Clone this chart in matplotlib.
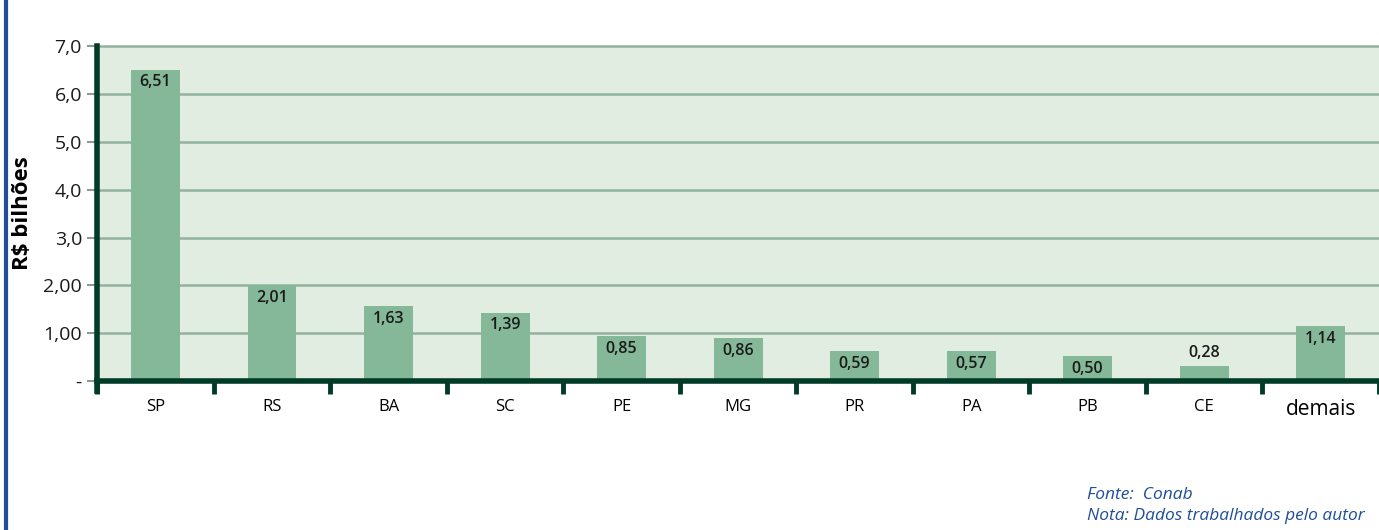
import matplotlib.pyplot as plt
import numpy as np

plt.rcParams['font.family'] = ['Open Sans', 'DejaVu Sans']

states = ['SP', 'RS', 'BA', 'SC', 'PE', 'MG', 'PR', 'PA', 'PB', 'CE', 'demais']
# bar heights as drawn in the picture, and the printed value labels
heights = [6.51, 2.01, 1.57, 1.43, 0.94, 0.90, 0.62, 0.62, 0.52, 0.32, 1.15]
labels = ['6,51', '2,01', '1,63', '1,39', '0,85', '0,86', '0,59', '0,57', '0,50', '0,28', '1,14']
ytick_vals = [0, 1, 2, 3, 4, 5, 6, 7]
ytick_labels = ['-', '1,00', '2,00', '3,0', '4,0', '5,0', '6,0', '7,0']

dark = '#003b28'
bar_color = '#84b898'
bg = '#e0ede0'
grid_color = '#92b29c'

fig = plt.figure(figsize=(13.79, 5.30), dpi=100)
ax = fig.add_axes([0.0705, 0.281, 0.9295, 0.632])
ax.set_facecolor(bg)

x = np.arange(len(states))
ax.bar(x, heights, width=0.42, color=bar_color, zorder=3)

for xi, h, lab in zip(x, heights, labels):
    if h < 0.45:
        ax.text(xi, h + 0.1, lab, ha='center', va='bottom', fontsize=11.5,
                fontweight='semibold', color='#1a1a1a', zorder=4)
    else:
        ax.text(xi, h - 0.1, lab, ha='center', va='top', fontsize=11.5,
                fontweight='semibold', color='#1a1a1a', zorder=4)

ax.set_xlim(-0.5, len(states) - 0.5)
ax.set_ylim(0, 7.0)

for v in ytick_vals[1:]:
    ax.axhline(v, color=grid_color, lw=1.8, zorder=1, clip_on=False)

ax.set_yticks(ytick_vals)
ax.set_yticklabels(ytick_labels, fontsize=14, color='#1a1a1a')
ax.tick_params(axis='y', length=7, width=1.5, color='#8a9a90', pad=4)

ax.set_xticks(x)
ax.set_xticklabels(states, fontsize=12)
for t in ax.get_xticklabels():
    if t.get_text() == 'demais':
        t.set_fontsize(15)
ax.tick_params(axis='x', length=0, pad=13)
ax.set_xticks(np.arange(-0.5, len(states), 1.0), minor=True)
ax.tick_params(axis='x', which='minor', length=9, width=3.5, color=dark)

for side in ['top', 'right']:
    ax.spines[side].set_visible(False)
ax.spines['left'].set_color(dark)
ax.spines['left'].set_linewidth(4)
ax.spines['left'].set_bounds(-0.2, 7.0)
ax.spines['bottom'].set_color(dark)
ax.spines['bottom'].set_linewidth(4)
ax.spines['bottom'].set_zorder(5)

ax.set_ylabel('R$ bilhões', fontsize=16, fontweight='bold', labelpad=10)
ax.yaxis.set_label_coords(-0.05, 0.5)

# blue rule at the left edge
fig.add_artist(plt.Line2D([0.004, 0.004], [0, 1], color='#1f4e9a', lw=3))

fig.text(0.788, 0.058, 'Fonte:  Conab', fontsize=12.5, style='italic', color='#1f4e9a')
fig.text(0.788, 0.018, 'Nota: Dados trabalhados pelo autor', fontsize=12.5,
         style='italic', color='#1f4e9a')

fig.savefig('out.png', dpi=100)
